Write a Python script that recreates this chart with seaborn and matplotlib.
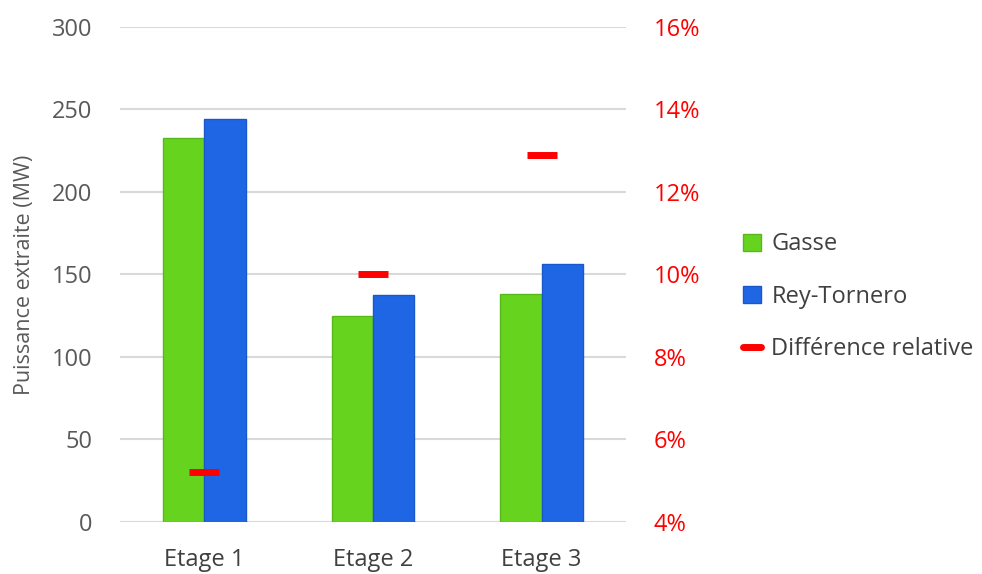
import pandas as pd
import numpy as np
import matplotlib.pyplot as plt
import seaborn as sns
from matplotlib.patches import Patch
from matplotlib.lines import Line2D

# data
etages = ["Etage 1", "Etage 2", "Etage 3"]
gasse = [232.5, 124.8, 138.0]
rey_tornero = [244.5, 137.6, 156.2]
diff_rel = [5.2, 10.0, 12.9]  # %

df = pd.DataFrame({
    "etage": etages * 2,
    "puissance": gasse + rey_tornero,
    "modele": ["Gasse"] * 3 + ["Rey-Tornero"] * 3,
})

sns.set_style("white")
plt.rcParams['font.family'] = ['Open Sans', 'DejaVu Sans']

green = "#66d41e"
blue = "#1f66e5"
red = "#ff0000"
grey_txt = "#595959"

fig = plt.figure(figsize=(9.82, 5.74), dpi=100)
ax = fig.add_axes([0.122, 0.0906, 0.5155, 0.8624])

sns.barplot(data=df, x="etage", y="puissance", hue="modele",
            hue_order=["Gasse", "Rey-Tornero"], palette=[green, blue],
            width=0.49, ax=ax, legend=False, saturation=1)
edges = {green: "#58b81a", blue: "#1a58c8"}
for p in ax.patches:
    fc = "#%02x%02x%02x" % tuple(int(round(c * 255)) for c in p.get_facecolor()[:3])
    p.set_edgecolor(edges.get(fc, fc))
    p.set_linewidth(1)

ax.set_ylim(0, 300)
ax.set_yticks(range(0, 301, 50))
ax.set_xlim(-0.5, 2.5)
ax.yaxis.grid(True, color="#d9d9d9", linewidth=1.5)
ax.set_axisbelow(True)
for s in ax.spines.values():
    s.set_visible(False)
ax.tick_params(axis="both", length=0, labelsize=17, colors=grey_txt)
ax.tick_params(axis="x", pad=19, colors="#404040")
ax.tick_params(axis="y", pad=20)
ax.set_xlabel("")
ax.set_ylabel("Puissance extraite (MW)", fontsize=15.5, color=grey_txt, labelpad=12)

ax2 = ax.twinx()
sns.pointplot(x=etages, y=diff_rel, ax=ax2, color=red, linestyle="none",
              marker="_", markersize=22, markeredgewidth=5)
ax2.set_ylim(4, 16)
ax2.set_yticks(range(4, 17, 2))
ax2.set_yticklabels([f"{v}%" for v in range(4, 17, 2)])
ax2.set_xlim(-0.5, 2.5)
for s in ax2.spines.values():
    s.set_visible(False)
ax2.tick_params(axis="y", length=0, labelsize=17, colors=red, pad=20)
ax2.set_ylabel("")

handles = [
    Patch(facecolor=green, edgecolor=edges[green], label="Gasse"),
    Patch(facecolor=blue, edgecolor=edges[blue], label="Rey-Tornero"),
    Line2D([], [], color=red, linewidth=5, label="Différence relative"),
]
fig.legend(handles=handles, loc="center left", bbox_to_anchor=(0.735, 0.483),
           frameon=False, fontsize=17, labelcolor="#404040",
           handlelength=0.75, handleheight=0.75, handletextpad=0.45, labelspacing=1.2)

fig.savefig("out.png", dpi=100)
